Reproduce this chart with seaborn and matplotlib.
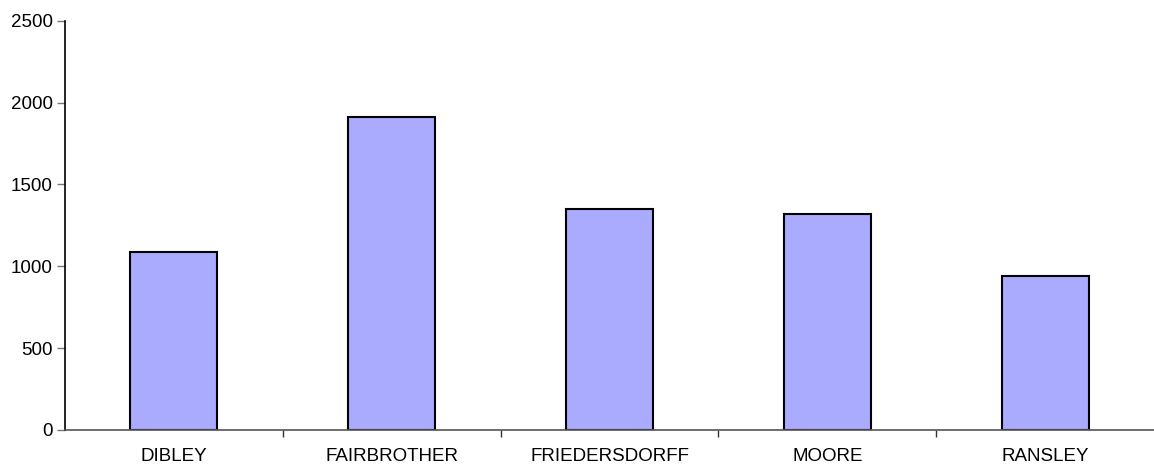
import pandas as pd
import numpy as np
import seaborn as sns
import matplotlib.pyplot as plt
from matplotlib.ticker import FixedLocator

names = ["DIBLEY", "FAIRBROTHER", "FRIEDERSDORFF", "MOORE", "RANSLEY"]
totals = [1087, 1914, 1350, 1319, 939]
yticks = [0, 500, 1000, 1500, 2000, 2500]

df = pd.DataFrame({"name": names, "total": totals})

sns.set_style("white")
plt.rcParams['font.family'] = ['Liberation Sans', 'DejaVu Sans']

fig = plt.figure(figsize=(11.54, 4.68), dpi=100)
ax = fig.add_axes([65/1154, 38/468, 1 - 65/1154, (430 - 20.7)/468])

sns.barplot(data=df, x="name", y="total", color="#AAAAFF", saturation=1,
            edgecolor="black", linewidth=1.5, width=0.40, ax=ax)

ax.set_xlim(-0.5, len(names) - 0.5)
ax.set_ylim(0, 2500)
ax.set_yticks(yticks)
ax.set_xlabel("")
ax.set_ylabel("")

# ticks between categories like the spreadsheet chart
ax.xaxis.set_minor_locator(FixedLocator(np.arange(0.5, len(names) - 0.5, 1)))
ax.tick_params(axis="x", which="major", bottom=True, length=0, pad=13,
               labelsize=13.5, labelcolor="black")
ax.tick_params(axis="x", which="minor", bottom=True, length=5, width=1,
               color="#333333", direction="out")
ax.tick_params(axis="y", left=True, length=6, width=1, color="#777777",
               direction="out", labelsize=13.5, labelcolor="black", pad=3)

for s in ["top", "right"]:
    ax.spines[s].set_visible(False)
ax.spines["left"].set_color("black")
ax.spines["left"].set_linewidth(1.2)
ax.spines["bottom"].set_color("#555555")
ax.spines["bottom"].set_linewidth(1.2)

fig.savefig("out.png", dpi=100)
